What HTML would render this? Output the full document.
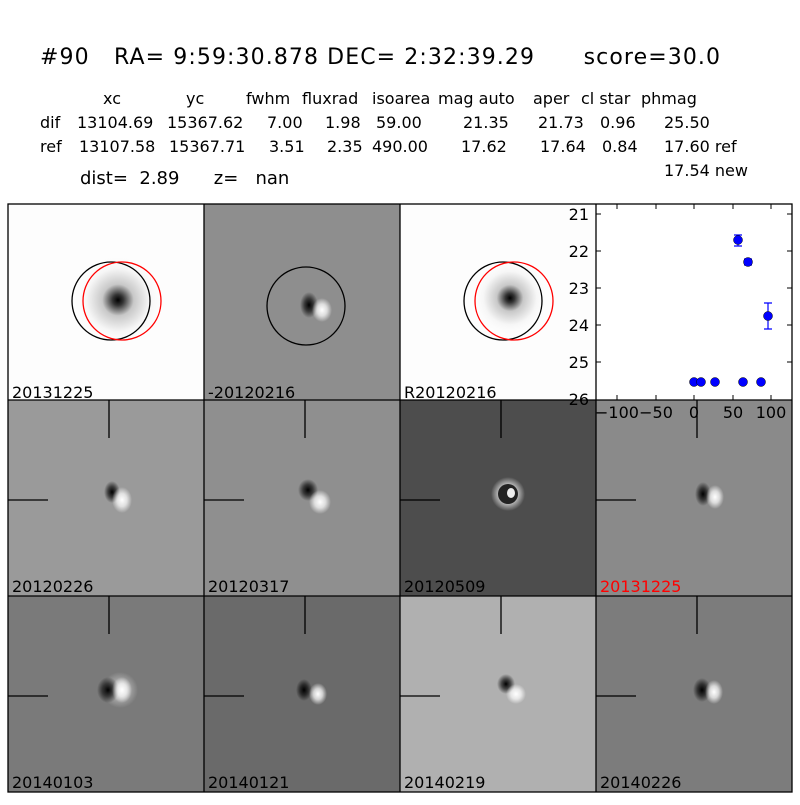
<!DOCTYPE html>
<html><head><meta charset="utf-8"><style>
body{margin:0;background:#fff}
svg text{font-family:"DejaVu Sans",sans-serif;white-space:pre}
</style></head><body>
<svg width="800" height="800" xmlns="http://www.w3.org/2000/svg" xml:space="preserve">
<defs>
<radialGradient id="ref"><stop offset="0" stop-color="#000"/><stop offset="0.12" stop-color="#333"/><stop offset="0.35" stop-color="#c8c8c8"/><stop offset="0.7" stop-color="#f6f6f6"/><stop offset="1" stop-color="#fdfdfd" stop-opacity="0"/></radialGradient>
<radialGradient id="dk"><stop offset="0" stop-color="#000"/><stop offset="0.5" stop-color="#000" stop-opacity="0.6"/><stop offset="1" stop-color="#000" stop-opacity="0"/></radialGradient>
<radialGradient id="wt"><stop offset="0" stop-color="#fff"/><stop offset="0.5" stop-color="#fff" stop-opacity="0.7"/><stop offset="1" stop-color="#fff" stop-opacity="0"/></radialGradient>
</defs>
<text x="40" y="64" font-size="22" textLength="680" lengthAdjust="spacing">#90   RA= 9:59:30.878 DEC= 2:32:39.29      score=30.0</text>
<g font-size="16" fill="#000">
<text x="103" y="104">xc</text><text x="186" y="104">yc</text><text x="246" y="104">fwhm</text><text x="302" y="104">fluxrad</text><text x="372" y="104">isoarea</text><text x="438" y="104">mag auto</text><text x="533" y="104">aper</text><text x="581" y="104">cl star</text><text x="641" y="104">phmag</text>
<text x="40" y="128">dif</text><text x="77" y="128">13104.69</text><text x="167" y="128">15367.62</text><text x="267" y="128">7.00</text><text x="325" y="128">1.98</text><text x="376" y="128">59.00</text><text x="463" y="128">21.35</text><text x="538" y="128">21.73</text><text x="600" y="128">0.96</text><text x="664" y="128">25.50</text>
<text x="40" y="152">ref</text><text x="79" y="152">13107.58</text><text x="169" y="152">15367.71</text><text x="269" y="152">3.51</text><text x="327" y="152">2.35</text><text x="372" y="152">490.00</text><text x="461" y="152">17.62</text><text x="540" y="152">17.64</text><text x="602" y="152">0.84</text><text x="664" y="152">17.60 ref</text>
<text x="664" y="176">17.54 new</text>
</g>
<text x="80" y="184" font-size="18">dist=  2.89      z=   nan</text>

<rect x="8" y="204" width="196" height="196" fill="#fdfdfd"/>
<circle cx="118" cy="300" r="45" fill="url(#ref)"/>
<circle cx="111" cy="301" r="39" fill="none" stroke="#000" stroke-width="1.3"/>
<circle cx="122" cy="301" r="39" fill="none" stroke="#f00" stroke-width="1.3"/>
<rect x="204" y="204" width="196" height="196" fill="#8e8e8e"/>
<ellipse cx="309" cy="305" rx="9" ry="13" fill="url(#dk)"/>
<ellipse cx="322" cy="310" rx="10" ry="12" fill="url(#wt)"/>
<circle cx="306" cy="306" r="39" fill="none" stroke="#000" stroke-width="1.3"/>
<rect x="400" y="204" width="196" height="196" fill="#fdfdfd"/>
<circle cx="510" cy="298" r="38" fill="url(#ref)"/>
<circle cx="503" cy="301" r="39" fill="none" stroke="#000" stroke-width="1.3"/>
<circle cx="514" cy="301" r="39" fill="none" stroke="#f00" stroke-width="1.3"/>
<rect x="596" y="204" width="196" height="196" fill="#fff"/>

<rect x="8" y="400" width="196" height="196" fill="#9a9a9a"/>
<ellipse cx="112" cy="492" rx="8" ry="11" fill="url(#dk)"/><ellipse cx="122" cy="500" rx="10" ry="13" fill="url(#wt)"/>
<rect x="204" y="400" width="196" height="196" fill="#8f8f8f"/>
<ellipse cx="308" cy="490" rx="10" ry="11" fill="url(#dk)"/><ellipse cx="320" cy="502" rx="11" ry="12" fill="url(#wt)"/>
<rect x="400" y="400" width="196" height="196" fill="#4d4d4d"/>
<circle cx="508" cy="494" r="17" fill="url(#wt)"/><circle cx="508" cy="494" r="10" fill="#222"/><ellipse cx="511" cy="493" rx="4" ry="5" fill="#eee"/>
<rect x="596" y="400" width="196" height="196" fill="#8a8a8a"/>
<ellipse cx="703" cy="494" rx="8" ry="12" fill="url(#dk)"/><ellipse cx="715" cy="497" rx="9" ry="12" fill="url(#wt)"/>

<rect x="8" y="596" width="196" height="196" fill="#7a7a7a"/>
<circle cx="120" cy="690" r="18" fill="url(#wt)" opacity="0.5"/>
<ellipse cx="108" cy="690" rx="11" ry="13" fill="url(#dk)"/><ellipse cx="122" cy="690" rx="10" ry="13" fill="url(#wt)"/>
<rect x="204" y="596" width="196" height="196" fill="#6a6a6a"/>
<ellipse cx="304" cy="690" rx="8" ry="11" fill="url(#dk)"/><ellipse cx="318" cy="694" rx="9" ry="11" fill="url(#wt)"/>
<rect x="400" y="596" width="196" height="196" fill="#b0b0b0"/>
<ellipse cx="506" cy="684" rx="9" ry="10" fill="url(#dk)"/><ellipse cx="516" cy="694" rx="10" ry="10" fill="url(#wt)"/>
<rect x="596" y="596" width="196" height="196" fill="#7c7c7c"/>
<ellipse cx="702" cy="690" rx="9" ry="12" fill="url(#dk)"/><ellipse cx="714" cy="692" rx="9" ry="12" fill="url(#wt)"/>

<g stroke="#000" stroke-width="1.3">
<path d="M109 400V438M8 500H48M305 400V438M204 500H244M501 400V438M400 500H440M697 400V438M596 500H636"/>
<path d="M109 596V634M8 696H48M305 596V634M204 696H244M501 596V634M400 696H440M697 596V634M596 696H636"/>
</g>
<g fill="none" stroke="#000" stroke-width="1.3">
<rect x="8" y="204" width="784" height="588"/>
<path d="M204 204V792M400 204V792M596 204V792M8 400H792M8 596H792"/>
</g>

<g font-size="16">
<text x="12" y="398">20131225</text><text x="208" y="398">-20120216</text><text x="404" y="398">R20120216</text>
<text x="12" y="592">20120226</text><text x="208" y="592">20120317</text><text x="404" y="592">20120509</text><text x="600" y="592" fill="#f00">20131225</text>
<text x="12" y="788">20140103</text><text x="208" y="788">20140121</text><text x="404" y="788">20140219</text><text x="600" y="788">20140226</text>
</g>

<g stroke="#000" stroke-width="1">
<path d="M596 214h5M596 251h5M596 288h5M596 325h5M596 362h5M792 214h-5M792 251h-5M792 288h-5M792 325h-5M792 362h-5"/>
<path d="M617 400v-5M656 400v-5M694 400v-5M733 400v-5M771 400v-5M617 204v5M656 204v5M694 204v5M733 204v5M771 204v5"/>
</g>
<g font-size="16" text-anchor="end">
<text x="589" y="220">21</text><text x="589" y="257">22</text><text x="589" y="294">23</text><text x="589" y="331">24</text><text x="589" y="368">25</text><text x="589" y="405">26</text>
</g>
<g font-size="16" text-anchor="middle">
<text x="617" y="418">−100</text><text x="656" y="418">−50</text><text x="694" y="418">0</text><text x="733" y="418">50</text><text x="771" y="418">100</text>
</g>
<g stroke="#00f" stroke-width="1.2">
<path d="M768 303v26M764 303h8M764 329h8M738 235v11M734 235h8M734 246h8M748 259v6M744 259h8M744 265h8"/>
</g>
<g fill="#00f" stroke="#000" stroke-width="0.5">
<circle cx="694" cy="382" r="4.5"/><circle cx="701" cy="382" r="4.5"/><circle cx="715" cy="382" r="4.5"/><circle cx="743" cy="382" r="4.5"/><circle cx="761" cy="382" r="4.5"/>
<circle cx="738" cy="240" r="4.5"/><circle cx="748" cy="262" r="4.5"/><circle cx="768" cy="316" r="4.5"/>
</g>
</svg>
</body></html>
